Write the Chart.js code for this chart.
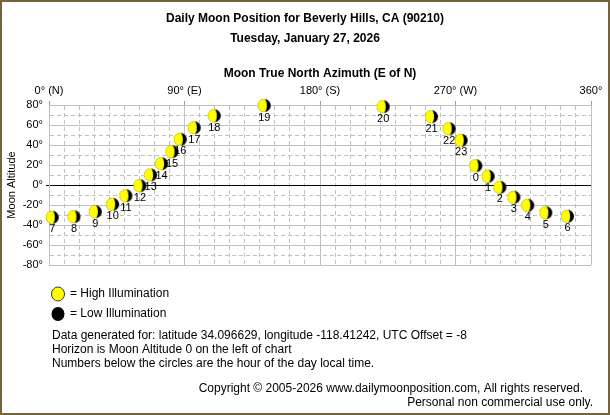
<!DOCTYPE html>
<html>
<head>
<meta charset="utf-8">
<script src="https://cdn.jsdelivr.net/npm/chart.js@4.4.1/dist/chart.umd.min.js"></script>
<style>
  body { margin: 0; background: #fff; }
  canvas { display: block; }
</style>
</head>
<body>
<canvas id="moonChart" width="610" height="415"></canvas>
<script>
// hour of day (local) for each plotted position
const hours = [7, 8, 9, 10, 11, 12, 13, 14, 15, 16, 17, 18, 19, 20, 21, 22, 23, 0, 1, 2, 3, 4, 5, 6];
// true north azimuth, degrees
const azimuth = [2.2, 16.6, 30.8, 42.3, 51.1, 60.4, 67.5, 74.8, 81.7, 87.2, 96.5, 109.8,
  143, 222, 254.1, 265.8, 273.8, 283.5, 291.7, 299.5, 308.8, 318, 330, 344.4];
// altitude above horizon, degrees
const altitude = [-32.3, -31.7, -26.7, -19.3, -10.7, -0.7, 10, 21.3, 33.3, 45.7, 57.3, 69.3,
  79.5, 78.3, 68.3, 56.3, 44.7, 19.3, 8.7, -2.3, -12.3, -20.3, -27.7, -31.3];
const xTickLabels = ['0° (N)', '90° (E)', '180° (S)', '270° (W)', '360°'];

const FONT = 'Arial, "Liberation Sans", sans-serif';
const GRID = '#c0c0c0';

// moon glyph: yellow disc with dark limb on the right
function makeMoon() {
  const c = document.createElement('canvas');
  c.width = 15; c.height = 15;
  const g = c.getContext('2d');
  const m = 7.5, r = 6.5;
  g.fillStyle = '#000';
  g.beginPath(); g.arc(m, m, r, 0, Math.PI * 2); g.fill();
  g.fillStyle = '#ffff00';
  g.beginPath();
  g.arc(m, m, r, Math.PI / 2, Math.PI * 1.5);
  g.ellipse(m, m, 2.5, r, 0, -Math.PI / 2, Math.PI / 2);
  g.closePath();
  g.fill();
  return c;
}
const moonImg = makeMoon();

const hourLabels = {
  id: 'hourLabels',
  beforeDatasetsDraw(chart) {
    const ctx = chart.ctx;
    const meta = chart.getDatasetMeta(0);
    ctx.save();
    ctx.font = '11px ' + FONT;
    ctx.fillStyle = '#000';
    ctx.textAlign = 'center';
    ctx.textBaseline = 'middle';
    meta.data.forEach((pt, i) => {
      ctx.fillText(String(hours[i]), pt.x, pt.y + 12);
    });
    ctx.restore();
  }
};

const decorations = {
  id: 'decorations',
  afterDraw(chart) {
    const ctx = chart.ctx;
    ctx.save();
    ctx.fillStyle = '#000';
    ctx.textBaseline = 'middle';

    ctx.textAlign = 'center';
    ctx.font = 'bold 12px ' + FONT;
    ctx.fillText('Daily Moon Position for Beverly Hills, CA (90210)', 305, 19);
    ctx.fillText('Tuesday, January 27, 2026', 305, 39);

    // legend
    ctx.strokeStyle = '#333';
    ctx.lineWidth = 1;
    ctx.fillStyle = '#ffff00';
    ctx.beginPath(); ctx.ellipse(58, 294, 6.5, 7, 0, 0, Math.PI * 2); ctx.fill(); ctx.stroke();
    ctx.fillStyle = '#000';
    ctx.beginPath(); ctx.ellipse(58, 314, 6.5, 7, 0, 0, Math.PI * 2); ctx.fill();

    ctx.textAlign = 'left';
    ctx.font = '12px ' + FONT;
    ctx.fillText('= High Illumination', 70, 294);
    ctx.fillText('= Low Illumination', 70, 314);
    ctx.fillText('Data generated for: latitude 34.096629, longitude -118.41242, UTC Offset = -8', 52, 336);
    ctx.fillText('Horizon is Moon Altitude 0 on the left of chart', 52, 350);
    ctx.fillText('Numbers below the circles are the hour of the day local time.', 52, 364);
    ctx.textAlign = 'right';
    ctx.fillText('Copyright © 2005-2026 www.dailymoonposition.com, All rights reserved.', 583, 389);
    ctx.fillText('Personal non commercial use only.', 593, 403);

    // frame
    ctx.strokeStyle = '#76643f';
    ctx.lineWidth = 2;
    ctx.strokeRect(1, 1, 608, 413);
    ctx.restore();
  }
};

new Chart(document.getElementById('moonChart'), {
  type: 'scatter',
  data: {
    datasets: [{
      data: azimuth.map((a, i) => ({ x: a, y: altitude[i] })),
      pointStyle: moonImg,
      showLine: false,
      clip: false
    }]
  },
  options: {
    responsive: false,
    animation: false,
    events: [],
    layout: { padding: { top: 0, left: 0, right: 19, bottom: 150 } },
    plugins: { legend: { display: false }, tooltip: { enabled: false } },
    scales: {
      x: {
        type: 'linear',
        position: 'top',
        min: 0,
        max: 360,
        afterFit: s => { s.height = 105; },
        ticks: {
          stepSize: 10,
          autoSkip: false,
          maxRotation: 0,
          padding: 3,
          color: '#000',
          font: { size: 11, family: FONT },
          callback: v => (v % 90 === 0 ? xTickLabels[v / 90] : '')
        },
        grid: {
          color: GRID,
          tickLength: 4,
          tickColor: c => (c.tick && c.tick.value % 90 === 0 ? '#999' : 'rgba(0,0,0,0)')
        },
        border: {
          color: GRID,
          dash: c => (c.tick && c.tick.value % 90 !== 0 ? [4, 3] : [])
        },
        title: {
          display: true,
          text: 'Moon True North Azimuth (E of N)',
          color: '#000',
          font: { size: 12, weight: 'bold', family: FONT },
          padding: { top: 66, bottom: 0 }
        }
      },
      y: {
        min: -80,
        max: 80,
        afterFit: s => { s.width = 49; },
        ticks: {
          stepSize: 10,
          autoSkip: false,
          padding: 3,
          color: '#000',
          font: { size: 11, family: FONT },
          callback: v => (v % 20 === 0 ? v + '°' : '')
        },
        grid: {
          color: c => (c.tick && c.tick.value === 0 ? '#000' : GRID),
          tickLength: 3,
          tickColor: c => (c.tick && c.tick.value === 0 ? '#000' : 'rgba(0,0,0,0)')
        },
        border: {
          color: GRID,
          dash: c => (c.tick && c.tick.value % 20 !== 0 ? [4, 3] : [])
        },
        title: {
          display: true,
          text: 'Moon Altitude',
          color: '#000',
          font: { size: 11, family: FONT },
          padding: { top: 5, bottom: 0 }
        }
      }
    }
  },
  plugins: [hourLabels, decorations]
});
</script>
</body>
</html>
